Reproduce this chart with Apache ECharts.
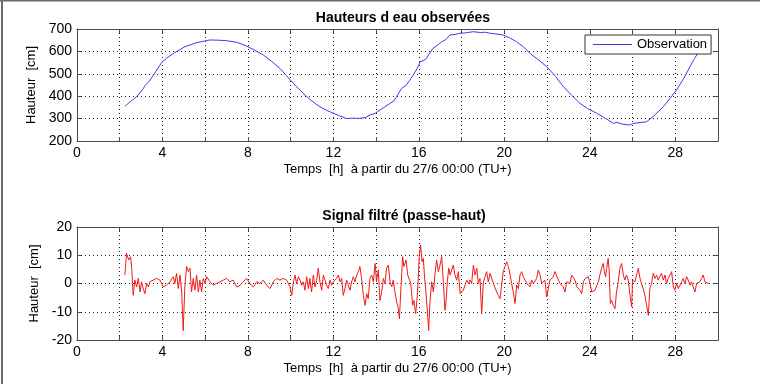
<!DOCTYPE html>
<html>
<head>
<meta charset="utf-8">
<script src="https://cdn.jsdelivr.net/npm/echarts@6/dist/echarts.min.js"></script>
<style>html,body{margin:0;padding:0;background:#fff}#c{width:760px;height:384px}</style>
</head>
<body>
<div id="c"></div>
<script>
// ---- Data ----
const title1 = 'Hauteurs d eau observées';
const title2 = 'Signal filtré (passe-haut)';
const xName = 'Temps  [h]  à partir du 27/6 00:00 (TU+)';
const yName = 'Hauteur  [cm]';
const seriesName = 'Observation';

const obsT = [2.25,2.45,2.63,2.8,3.0,3.2,3.42,3.7,3.96,4.2,4.51,4.8,5.05,5.1,5.3,5.6,5.9,6.22,6.6,7.0,7.5,7.94,8.3,8.72,9.1,9.5,9.8,10.12,10.45,10.75,11.05,11.37,11.7,12.0,12.3,12.62,12.9,13.24,13.5,13.71,13.95,14.18,14.4,14.65,14.8,14.96,15.19,15.4,15.58,15.74,15.97,16.05,16.2,16.36,16.5,16.67,16.85,17.07,17.25,17.45,17.7,17.92,18.2,18.55,18.9,19.1,19.33,19.6,19.95,20.25,20.58,20.9,21.2,21.6,21.98,22.4,22.76,23.15,23.54,23.9,24.32,24.7,25.1,25.3,25.5,25.88,26.0,26.3,26.66,27.0,27.44,27.75,28.06,28.4,28.69,28.9,29.15,29.5];
const obsH = [356,372,386,398,422,448,472,512,550,570,591,607,621,614,629,639,645,651,650,648,640,624,606,584,556,524,492,458,426,398,374,353,336,324,312,300,302,301,305,316,323,338,352,368,376,398,435,448,472,495,532,554,558,569,592,614,626,643,652,673,676,681,683,688,684,686,681,678,673,660,643,620,591,562,532,488,443,404,368,345,324,303,279,283,276,271,278,282,286,312,353,390,428,480,532,568,606,660];

const filtT = [
2.24,2.32,2.35,2.42,2.45,2.51,2.56,2.63,2.71,2.79,2.87,2.95,3.02,3.10,3.18,3.26,3.34,3.41,3.57,3.73,3.88,4.04,4.19,4.35,4.51,4.58,4.66,4.74,4.82,4.90,4.97,5.05,5.13,5.21,5.29,5.36,5.44,5.52,5.60,5.68,5.75,5.83,5.91,5.99,6.07,6.22,6.38,6.53,6.69,6.85,7.00,7.16,7.31,7.47,7.63,7.78,7.94,8.09,8.25,8.41,8.56,8.72,8.87,9.03,9.19,9.34,9.50,9.65,
9.81,9.97,10.05,10.12,10.20,10.28,10.36,10.44,10.51,10.59,10.67,10.75,10.83,10.90,10.98,11.06,11.14,11.22,11.29,11.37,11.45,11.53,11.61,11.68,11.76,11.84,11.92,12.00,12.15,12.23,12.31,12.39,12.46,12.54,12.62,12.70,12.78,12.85,12.93,13.01,13.09,13.17,13.24,13.32,13.40,13.48,13.56,13.63,13.71,13.79,13.87,13.95,14.02,14.10,14.18,14.26,14.34,14.41,14.49,14.57,14.65,14.73,14.80,14.88,14.96,15.04,15.09,15.15,15.24,15.30,15.40,15.48,15.55,15.62,15.71,15.77,15.85,15.93,16.02,16.08,16.15,16.21,16.27,16.33,16.40,16.46,16.52,16.60,16.68,16.75,16.83,16.91,16.99,
17.07,17.15,17.22,17.27,17.33,17.40,17.46,17.54,17.61,17.69,17.77,17.85,17.93,18.00,18.08,18.16,18.24,18.32,18.39,18.47,18.55,18.63,18.71,18.78,18.86,18.94,19.02,19.10,19.17,19.25,19.33,19.41,19.49,19.56,19.64,19.72,19.80,19.88,19.95,20.03,20.11,20.19,20.27,20.34,20.42,20.50,20.58,20.66,20.73,20.81,20.89,20.97,21.05,21.12,21.20,21.28,21.36,21.44,21.51,21.59,21.67,21.75,21.83,21.90,21.98,22.06,22.14,22.22,22.29,22.37,22.45,22.53,22.61,22.68,22.76,22.84,22.92,23.00,23.07,23.15,23.23,23.31,23.39,23.46,23.54,23.62,23.70,23.78,23.85,23.93,24.01,24.09,24.17,24.24,
24.32,24.40,24.47,24.55,24.63,24.68,24.74,24.79,24.86,24.91,24.96,25.02,25.10,25.18,25.25,25.33,25.41,25.49,25.57,25.64,25.72,25.80,25.88,25.96,26.00,26.07,26.11,26.19,26.27,26.35,26.42,26.50,26.58,26.66,26.74,26.81,26.89,26.97,27.05,27.13,27.20,27.28,27.36,27.44,27.52,27.59,27.67,27.75,27.83,27.91,27.98,28.06,28.14,28.22,28.30,28.37,28.45,28.53,28.61,28.69,28.76,28.84,28.92,29.00,29.08,29.15,29.23,29.31,29.39,29.47,29.54,29.62];
const filtH = [
3.0,10.7,11.3,8.3,8.9,9.5,5.4,-4.2,1.2,-1.2,1.8,-3.0,0.6,-1.8,-3.6,0,-1.2,0.6,1.2,1.8,1.2,-1.2,-0.6,0.6,2.4,0,3.6,-1.8,3.0,-3.0,-16.7,-0.6,6.0,4.2,5.4,-3.0,1.8,-2.4,3.0,-3.0,1.2,-3.0,1.8,0,2.4,0.6,-0.6,0,0.6,1.2,1.8,0.6,1.2,-1.2,-0.6,0.6,1.8,0,-1.2,0.6,0,1.2,-0.6,-1.8,0.6,1.8,1.2,1.8,
1.2,-1.2,-4.2,0,3.0,0,2.4,1.2,-0.6,0.6,-2.4,2.4,-1.8,1.8,-3.0,3.0,-1.2,1.2,5.4,0.6,-2.4,3.0,1.2,-0.6,-1.8,1.2,-0.6,0.6,1.8,3.0,0.6,1.8,-4.2,-1.8,1.2,-0.6,-2.4,0.6,2.4,0.6,3.0,4.2,6.0,1.8,-4.2,-7.7,-3.6,-5.4,1.8,3.0,0.6,7.1,0.6,4.8,-6.0,-3.0,1.8,0,5.4,6.5,0.6,-1.2,1.2,-3.0,-6.5,-8.9,-12.5,-3.0,9.5,6.0,8.3,3.0,3.6,0,-7.7,-6.0,-10.7,-4.2,9.5,13.7,7.7,8.9,1.8,-3.0,-10.1,-16.7,-6.5,0.6,-3.0,3.0,8.3,4.2,6.5,
9.5,0,-9.5,-6.5,0.6,5.4,3.0,2.4,6.5,3.0,1.2,4.2,-3.6,-4.2,-2.4,-3.0,1.2,0,1.2,0,6.5,3.0,5.4,0,1.8,-10.7,0.6,2.4,4.2,0.6,3.6,4.2,0,-0.6,-3.0,-4.2,-5.4,0,4.2,6.0,7.7,6.0,3.0,0,-3.0,-7.1,-0.6,-1.8,3.0,4.2,2.4,1.2,0,0.6,-1.2,1.2,0,0.6,1.8,4.8,3.0,0,0.6,1.2,-4.8,-1.8,1.2,0.6,2.4,4.2,4.8,1.2,0,0,-1.2,-3.0,0.6,1.2,0,3.0,3.6,1.2,-1.2,-0.6,-2.4,-3.6,0.6,1.8,1.2,2.4,0,-3.0,-3.6,-2.4,
-2.4,0.6,3.0,5.4,7.1,4.2,2.4,5.4,8.9,4.2,-7.1,-6.0,-7.7,-8.9,-3.0,0.6,5.4,7.1,3.0,1.2,3.0,1.2,-4.2,-8.3,1.2,1.8,0.6,3.0,5.4,1.8,0,-1.8,-4.2,-7.7,-11.3,-1.8,0,3.6,1.8,3.0,1.2,1.8,3.6,1.2,3.0,0,1.8,1.2,4.2,-1.2,-2.4,0,-1.8,-2.4,0.6,1.8,0,2.4,1.2,-0.6,0.6,-1.2,-3.0,0,-0.6,0.6,1.8,3.0,0.6,1.2,0,0];

const xMin = 0, xMax = 30, xStep = 2, xLabelStep = 4;
const y1Min = 200, y1Max = 700, y1Step = 100;
const y2Min = -20, y2Max = 20, y2Step = 10;

// ---- Chart ----
const FONT = "'Liberation Sans', Arial, sans-serif";
const AX = '#4a4a4a';
const zip = (a, b) => a.slice(0, Math.min(a.length, b.length)).map((t, i) => [t, b[i]]);

function xAxes(gi) {
  return [
    {
      type: 'value', gridIndex: gi, min: xMin, max: xMax, interval: xStep, position: 'bottom',
      axisLine: { show: true, onZero: false, lineStyle: { color: AX, width: 1 } },
      axisTick: { show: true, inside: true, length: 4, lineStyle: { color: AX } },
      axisLabel: { formatter: v => (v % xLabelStep === 0 ? String(v) : ''), color: '#000', fontSize: 14, fontFamily: FONT, margin: 5 },
      splitLine: { show: true, lineStyle: { type: [1, 3], color: '#222', width: 1 } },
      name: xName, nameLocation: 'middle', nameGap: 22,
      nameTextStyle: { fontSize: 13, color: '#000', fontFamily: FONT }
    },
    {
      type: 'value', gridIndex: gi, min: xMin, max: xMax, interval: xStep, position: 'top',
      axisLine: { show: true, onZero: false, lineStyle: { color: AX, width: 1 } },
      axisTick: { show: true, inside: true, length: 4, lineStyle: { color: AX } },
      axisLabel: { show: false }, splitLine: { show: false }
    }
  ];
}
function yAxes(gi, mn, mx, st) {
  return [
    {
      type: 'value', gridIndex: gi, min: mn, max: mx, interval: st, position: 'left',
      axisLine: { show: true, onZero: false, lineStyle: { color: AX, width: 1 } },
      axisTick: { show: true, inside: true, length: 4, lineStyle: { color: AX } },
      axisLabel: { color: '#000', fontSize: 14, fontFamily: FONT, margin: 5 },
      splitLine: { show: true, lineStyle: { type: [1, 3], color: '#222', width: 1 } },
      name: yName, nameLocation: 'middle', nameGap: 23,
      nameTextStyle: { fontSize: 13, color: '#000', fontFamily: FONT }
    },
    {
      type: 'value', gridIndex: gi, min: mn, max: mx, interval: st, position: 'right',
      axisLine: { show: true, onZero: false, lineStyle: { color: AX, width: 1 } },
      axisTick: { show: true, inside: true, length: 4, lineStyle: { color: AX } },
      axisLabel: { show: false }, splitLine: { show: false }
    }
  ];
}

const chart = echarts.init(document.getElementById('c'), null, { renderer: 'canvas' });
chart.setOption({
  animation: false,
  backgroundColor: '#fff',
  textStyle: { fontFamily: FONT },
  title: [
    { text: title1, left: 398, top: 6, textAlign: 'center', textStyle: { fontSize: 14, fontWeight: 'bold', color: '#000', fontFamily: FONT } },
    { text: title2, left: 399, top: 204, textAlign: 'center', textStyle: { fontSize: 14, fontWeight: 'bold', color: '#000', fontFamily: FONT } }
  ],
  grid: [
    { left: 77, top: 29, width: 641, height: 112, containLabel: false },
    { left: 77, top: 227, width: 641, height: 113, containLabel: false }
  ],
  xAxis: [...xAxes(0), ...xAxes(1)],
  yAxis: [...yAxes(0, y1Min, y1Max, y1Step), ...yAxes(1, y2Min, y2Max, y2Step)],
  legend: {
    data: [{ name: seriesName, icon: 'rect' }], left: 585, top: 35,
    backgroundColor: '#fff', borderColor: '#333', borderWidth: 1, borderRadius: 0,
    padding: [3, 4, 3, 8], itemWidth: 39, itemHeight: 1, itemGap: 4,
    textStyle: { fontSize: 13, color: '#000', fontFamily: FONT }
  },
  graphic: [
    { type: 'rect', left: 1, top: 0, shape: { width: 2, height: 384 }, style: { fill: '#6a6a6a' }, silent: true },
    { type: 'rect', left: 0, top: 0, shape: { width: 760, height: 1.5 }, style: { fill: '#6a6a6a' }, silent: true }
  ],
  series: [
    {
      name: seriesName, type: 'line', xAxisIndex: 0, yAxisIndex: 0,
      data: zip(obsT, obsH), symbol: 'none', smooth: false,
      lineStyle: { color: '#3c3cf2', width: 1 }, itemStyle: { color: '#3c3cf2' }, z: 2
    },
    {
      name: 'filtre', type: 'line', xAxisIndex: 2, yAxisIndex: 2,
      data: zip(filtT, filtH), symbol: 'none',
      lineStyle: { color: '#f21a1a', width: 1 }, itemStyle: { color: '#f21a1a' }, z: 2
    }
  ]
});
</script>
</body>
</html>
